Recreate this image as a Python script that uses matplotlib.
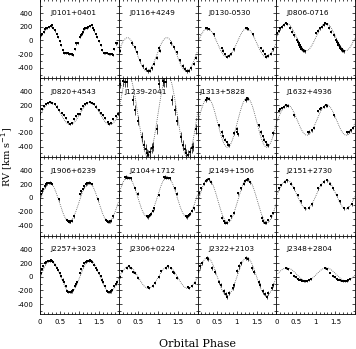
import matplotlib
matplotlib.use("Agg")
import matplotlib.pyplot as plt
import numpy as np
from matplotlib.ticker import MultipleLocator

plt.rcParams["axes.unicode_minus"] = False

names = ["J0101+0401", "J0116+4249", "J0130-0530", "J0806-0716",
         "J0820+4543", "J1239-2041", "J1313+5828", "J1632+4936",
         "J1906+6239", "J2104+1712", "J2149+1506", "J2151+2730",
         "J2257+3023", "J2306+0224", "J2322+2103", "J2348+2804"]

# sine fit: gamma + K cos(2 pi (phase - phase_max)); None = no fit drawn
gamma = [None, -205, -35, 50, 85, 50, -50, -12, -60, 15, -40, 50, 10, -10, 0, 35]
semi_amp = [None, 245, 210, 200, 165, 600, 360, 222, 285, 295, 320, 210, 235, 160, 280, 95]
phase_max = [None, 0.22, 0.25, 0.26, 0.27, 0.24, 0.26, 0.28, 0.24, 0.23, 0.27, 0.27, 0.27, 0.25, 0.25, 0.27]
rv_err = [15, 25, 20, 20, 15, 70, 25, 20, 20, 20, 20, 20, 15, 15, 30, 10]

ph_j0101 = [0.01, 0.03, 0.06, 0.09, 0.12, 0.15, 0.19, 0.23, 0.27, 0.31, 0.34, 0.38, 0.42, 0.46,
            0.50, 0.54, 0.58, 0.62, 0.66, 0.70, 0.74, 0.78, 0.82, 0.85, 0.88, 0.92, 0.96]
rv_j0101 = [50, 75, 95, 130, 160, 175, 185, 195, 205, 230, 185, 145, 100, 50,
            -10, -70, -140, -180, -185, -190, -192, -195, -200, -215, -130, -45, -35]
ph_j0116 = [0.01, 0.04, 0.33, 0.40, 0.47, 0.55, 0.62, 0.68, 0.74, 0.79, 0.84, 0.90, 0.96]
rv_j0116 = [-110, -150, -40, -100, -175, -290, -375, -420, -445, -440, -410, -340, -250]
ph_j0130 = [0.22, 0.25, 0.29, 0.42, 0.62, 0.66, 0.71, 0.75, 0.80, 0.86, 0.93]
rv_j0130 = [180, 175, 165, 90, -110, -150, -200, -240, -225, -195, -130]
ph_j0806 = [0.02, 0.06, 0.10, 0.15, 0.20, 0.24, 0.28, 0.34, 0.40, 0.46, 0.52, 0.55, 0.57,
            0.58, 0.60, 0.61, 0.62, 0.63, 0.64, 0.65, 0.66, 0.67, 0.68, 0.70, 0.72]
rv_j0806 = [110, 140, 175, 200, 230, 255, 240, 185, 130, 75, 10, -20, -40,
            -60, -70, -90, -100, -110, -120, -130, -125, -140, -145, -150, -160]
ph_j0820 = [0.01, 0.05, 0.10, 0.15, 0.20, 0.26, 0.31, 0.37, 0.43, 0.49, 0.55, 0.60, 0.66,
            0.72, 0.76, 0.80, 0.86, 0.92, 0.97]
rv_j0820 = [80, 150, 195, 215, 235, 250, 240, 215, 185, 140, 95, 55, 20,
            -35, -75, -60, 0, 45, 70]
ph_j1239 = [0.02, 0.12, 0.16, 0.20, 0.36, 0.42, 0.49, 0.58, 0.64, 0.68, 0.72, 0.75, 0.80,
            0.85, 0.88, 0.96]
rv_j1239 = [520, 560, 540, 545, 280, 130, -20, -260, -380, -430, -500, -520, -480,
            -420, -400, -140]
ph_j1313 = [0.00, 0.01, 0.02, 0.22, 0.25, 0.28, 0.55, 0.62, 0.66, 0.70, 0.74, 0.77, 0.80, 0.92]
rv_j1313 = [-140, -180, -220, 280, 305, 300, -90, -190, -250, -300, -340, -370, -380, -200]
ph_j1632 = [0.06, 0.10, 0.14, 0.20, 0.26, 0.30, 0.46, 0.80, 0.84, 0.90, 0.95]
rv_j1632 = [120, 150, 165, 185, 200, 195, 55, -190, -180, -160, -130]
ph_j1906 = [0.02, 0.05, 0.08, 0.12, 0.16, 0.19, 0.22, 0.25, 0.28, 0.31, 0.47, 0.68, 0.71,
            0.73, 0.75, 0.77, 0.80, 0.86]
rv_j1906 = [60, 100, 130, 170, 200, 215, 220, 225, 220, 205, -20, -320, -335,
            -345, -345, -340, -330, -270]
ph_j2104 = [0.01, 0.15, 0.18, 0.21, 0.25, 0.30, 0.42, 0.49, 0.72, 0.74, 0.76, 0.79, 0.82,
            0.86, 0.90]
rv_j2104 = [45, 300, 310, 295, 290, 285, 140, 65, -270, -280, -260, -250, -230, -190, -150]
ph_j2149 = [0.04, 0.10, 0.17, 0.21, 0.25, 0.29, 0.33, 0.63, 0.67, 0.71, 0.75, 0.80, 0.86, 0.93]
rv_j2149 = [70, 140, 210, 250, 265, 270, 230, -290, -340, -360, -360, -320, -270, -220]
ph_j2151 = [0.07, 0.13, 0.22, 0.28, 0.37, 0.45, 0.54, 0.62, 0.72, 0.83, 0.92]
rv_j2151 = [140, 190, 240, 260, 210, 140, 45, -50, -150, -140, -90]
ph_j2257 = [0.02, 0.05, 0.08, 0.12, 0.16, 0.20, 0.25, 0.28, 0.30, 0.33, 0.37, 0.42, 0.46,
            0.50, 0.54, 0.58, 0.61, 0.65, 0.69, 0.72, 0.75, 0.78, 0.80, 0.84, 0.88, 0.92, 0.95]
rv_j2257 = [60, 110, 160, 200, 220, 225, 235, 245, 230, 210, 175, 130, 100,
            60, 15, -40, -70, -140, -210, -220, -225, -220, -215, -190, -140, -100, -70]
ph_j2306 = [0.02, 0.07, 0.20, 0.26, 0.32, 0.37, 0.41, 0.49, 0.75, 0.78, 0.87, 0.93]
rv_j2306 = [0, 90, 125, 150, 130, 75, 50, -20, -145, -165, -140, -95]
ph_j2322 = [0.01, 0.06, 0.11, 0.23, 0.27, 0.38, 0.44, 0.55, 0.59, 0.67, 0.72, 0.76, 0.80,
            0.89, 0.93]
rv_j2322 = [90, 150, 200, 270, 260, 125, 75, -70, -120, -215, -250, -290, -240, -170, -120]
ph_j2348 = [0.24, 0.30, 0.37, 0.45, 0.50, 0.54, 0.58, 0.62, 0.66, 0.70, 0.74, 0.79, 0.83, 0.88]
rv_j2348 = [125, 110, 60, 10, -10, -30, -40, -45, -55, -60, -60, -60, -45, -30]

phases = [ph_j0101, ph_j0116, ph_j0130, ph_j0806, ph_j0820, ph_j1239, ph_j1313, ph_j1632,
          ph_j1906, ph_j2104, ph_j2149, ph_j2151, ph_j2257, ph_j2306, ph_j2322, ph_j2348]
velocities = [rv_j0101, rv_j0116, rv_j0130, rv_j0806, rv_j0820, rv_j1239, rv_j1313, rv_j1632,
              rv_j1906, rv_j2104, rv_j2149, rv_j2151, rv_j2257, rv_j2306, rv_j2322, rv_j2348]

label_x = [0.133] * 16
label_x[5] = 0.065
label_x[6] = 0.025


def main():
    fig, axes = plt.subplots(4, 4, figsize=(3.56, 3.49), dpi=100,
                             gridspec_kw={"hspace": 0, "wspace": 0})
    fig.subplots_adjust(left=0.1124, right=0.9972, bottom=0.099, top=1.002)

    grid = np.linspace(0, 2, 400)

    for idx, ax in enumerate(axes.flat):
        row, col = divmod(idx, 4)
        ph = np.array(phases[idx])
        rv = np.array(velocities[idx])

        # model curve
        if gamma[idx] is not None:
            model = gamma[idx] + semi_amp[idx] * np.cos(2 * np.pi * (grid - phase_max[idx]))
            ax.plot(grid, model, linestyle=(0, (1, 1.3)), color="0.35", lw=0.6)

        # data folded twice
        for shift in (0, 1):
            ax.errorbar(ph + shift, rv, yerr=rv_err[idx], fmt="s", ms=1.7, color="black",
                        mew=0, elinewidth=0.5, capsize=0.8, capthick=0.5)

        ax.text(label_x[idx], 0.825, names[idx], transform=ax.transAxes,
                fontsize=5.3, va="center", ha="left")

        ax.set_xlim(0, 2)
        ax.set_ylim(-550, 600)
        ax.set_xticks([0, 0.5, 1, 1.5])
        ax.set_yticks([-400, -200, 0, 200, 400])
        ax.xaxis.set_minor_locator(MultipleLocator(0.1))
        ax.yaxis.set_minor_locator(MultipleLocator(100))
        ax.tick_params(which="both", direction="in", top=True, right=True, width=0.5,
                       labelsize=5)
        ax.tick_params(which="major", length=2.5)
        ax.tick_params(which="minor", length=1.3)
        ax.tick_params(axis="y", pad=5)
        ax.tick_params(axis="x", pad=3)
        for spine in ax.spines.values():
            spine.set_linewidth(0.6)

        if col == 0:
            ax.set_yticklabels(["-400", "-200", "0", "200", "400"])
        else:
            ax.set_yticklabels([])
        if row == 3:
            ax.set_xticklabels(["0", "0.5", "1", "1.5"])
        else:
            ax.set_xticklabels([])

    fig.text(0.022, 0.55, r"RV [km s$^{-1}$]", rotation=90, ha="center", va="center",
             fontsize=7, family="DejaVu Serif")
    fig.text(0.555, 0.015, "Orbital Phase", ha="center", va="center",
             fontsize=8, family="DejaVu Serif")

    fig.savefig("out.png", dpi=100)


if __name__ == "__main__":
    main()
